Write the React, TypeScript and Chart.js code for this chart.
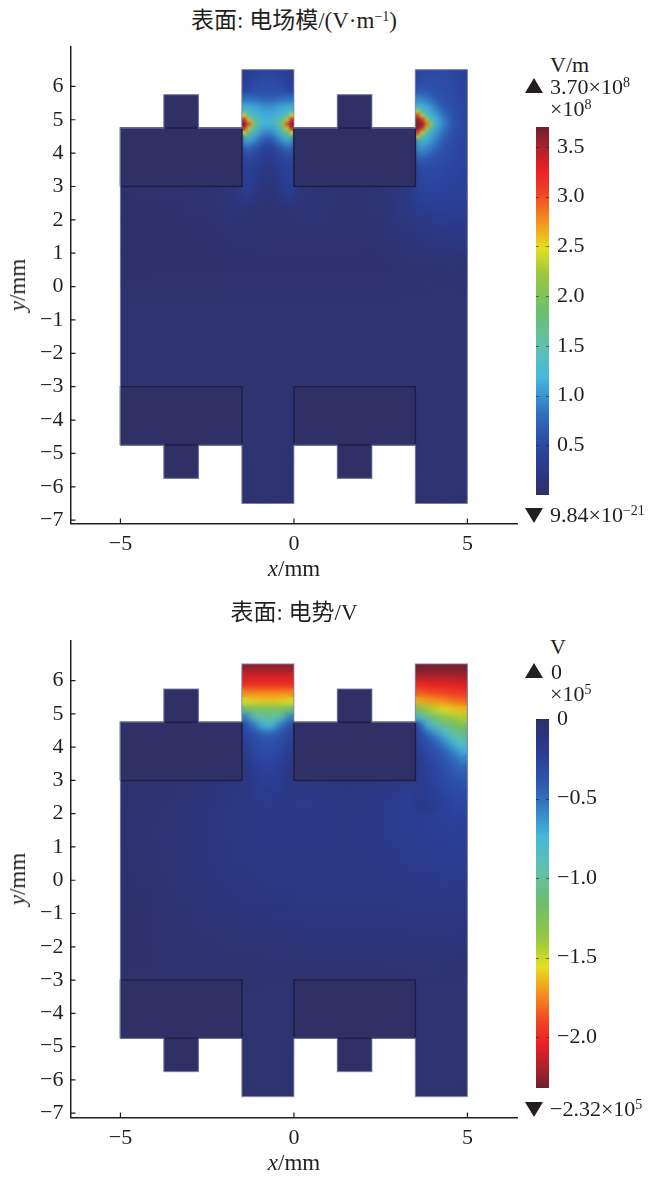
import React, { useEffect, useRef } from "react";
import { Chart, registerables } from "chart.js";

Chart.register(...registerables);

const SERIF = '"Liberation Serif", "Noto Sans CJK SC", serif';
const INK = "#231f20";

// device outline, mm
const outlineX = [-5, -3.75, -3.75, -2.75, -2.75, -1.5, -1.5, 0, 0, 1.25, 1.25, 2.25, 2.25, 3.5, 3.5, 5, 5, 3.5, 3.5, 2.25, 2.25, 1.25, 1.25, 0, 0, -1.5, -1.5, -2.75, -2.75, -3.75, -3.75, -5, -5];
const outlineY = [4.75, 4.75, 5.75, 5.75, 4.75, 4.75, 6.5, 6.5, 4.75, 4.75, 5.75, 5.75, 4.75, 4.75, 6.5, 6.5, -6.5, -6.5, -4.75, -4.75, -5.75, -5.75, -4.75, -4.75, -6.5, -6.5, -4.75, -4.75, -5.75, -5.75, -4.75, -4.75, 4.75];

// [x0, x1, y0, y1]
const electrodes = [
  [-5, -1.5, 3, 4.75],
  [0, 3.5, 3, 4.75],
  [-5, -1.5, -4.75, -3],
  [0, 3.5, -4.75, -3],
];
const teeth = [
  [-3.75, -2.75, 4.75, 5.75],
  [1.25, 2.25, 4.75, 5.75],
  [-3.75, -2.75, -5.75, -4.75],
  [1.25, 2.25, -5.75, -4.75],
];

const xTicks = [-5, 0, 5];
const yTicks = [-7, -6, -5, -4, -3, -2, -1, 0, 1, 2, 3, 4, 5, 6];

// colour table, position 0..1 along the colour bar
const colorStops = [0, 0.05, 0.1, 0.16, 0.22, 0.27, 0.32, 0.4, 0.5, 0.6, 0.67, 0.74, 0.82, 0.88, 0.95, 1];
const colorValues = ["#2f3068", "#2b3680", "#2a3f98", "#2d52ae", "#2f70bf", "#3a93d0", "#45b9dc", "#5fc0b0", "#6cbf6c", "#9ac83c", "#e4e020", "#f7941d", "#ef4423", "#ed2024", "#a5222a", "#6f2030"];

const gapXA = [-1.375, -1.125, -0.875, -0.625, -0.375, -0.125];
const gapXB = [3.625, 3.875, 4.125, 4.375, 4.625, 4.875];
const gapY = [6.375, 6.125, 5.875, 5.625, 5.375, 5.125, 4.875, 4.625, 4.375, 4.125, 3.875, 3.625, 3.375, 3.125, 2.875, 2.625, 2.375, 2.125];
const coarseX = [-4.5, -3.5, -2.5, -1.5, -0.5, 0.5, 1.5, 2.5, 3.5, 4.5];

// electric field, 10^8 V/m
const fieldBarTicks = [0.5, 1, 1.5, 2, 2.5, 3, 3.5];
const fieldBarLabels = ["0.5", "1.0", "1.5", "2.0", "2.5", "3.0", "3.5"];
const fieldCoarseY = [2.5, 1.5, 0.5];
const fieldCoarse = [
  [0.03, 0.04, 0.06, 0.18, 0.08, 0.15, 0.06, 0.1, 0.3, 0.4],
  [0.03, 0.03, 0.04, 0.07, 0.06, 0.06, 0.05, 0.07, 0.15, 0.22],
  [0.02, 0.03, 0.03, 0.04, 0.04, 0.04, 0.04, 0.04, 0.06, 0.08],
];
const fieldGapA = [
  [0.3, 0.4, 0.45, 0.45, 0.4, 0.3],
  [0.35, 0.47, 0.5, 0.5, 0.47, 0.35],
  [0.4, 0.52, 0.55, 0.55, 0.52, 0.4],
  [0.8, 0.75, 0.68, 0.68, 0.75, 0.8],
  [1.15, 1.1, 1.0, 1.0, 1.1, 1.15],
  [1.5, 1.25, 1.12, 1.12, 1.25, 1.5],
  [2.8, 1.7, 1.2, 1.2, 1.7, 2.8],
  [1.9, 1.3, 0.95, 0.95, 1.3, 1.9],
  [1.2, 0.95, 0.6, 0.6, 0.95, 1.2],
  [0.72, 0.55, 0.36, 0.36, 0.55, 0.72],
  [0.5, 0.42, 0.3, 0.3, 0.42, 0.5],
  [0.42, 0.36, 0.25, 0.25, 0.36, 0.42],
  [0.38, 0.3, 0.2, 0.2, 0.3, 0.38],
  [0.38, 0.26, 0.17, 0.17, 0.26, 0.38],
  [0.4, 0.22, 0.13, 0.13, 0.22, 0.4],
  [0.25, 0.16, 0.1, 0.1, 0.16, 0.25],
  [0.12, 0.1, 0.08, 0.08, 0.1, 0.12],
  [0.08, 0.07, 0.06, 0.06, 0.07, 0.08],
];
const fieldGapB = [
  [0.45, 0.5, 0.5, 0.5, 0.45, 0.4],
  [0.5, 0.52, 0.52, 0.52, 0.48, 0.42],
  [0.6, 0.6, 0.55, 0.52, 0.48, 0.42],
  [0.95, 0.78, 0.62, 0.55, 0.5, 0.42],
  [1.2, 1.1, 0.8, 0.6, 0.52, 0.45],
  [1.6, 1.3, 1.05, 0.72, 0.55, 0.45],
  [3.0, 1.75, 1.2, 0.85, 0.58, 0.45],
  [2.0, 1.35, 1.0, 0.72, 0.52, 0.45],
  [1.35, 1.1, 0.85, 0.6, 0.5, 0.42],
  [1.05, 0.9, 0.68, 0.55, 0.48, 0.42],
  [0.75, 0.65, 0.58, 0.5, 0.45, 0.42],
  [0.55, 0.52, 0.5, 0.48, 0.45, 0.42],
  [0.45, 0.48, 0.48, 0.45, 0.42, 0.4],
  [0.42, 0.45, 0.45, 0.42, 0.42, 0.38],
  [0.4, 0.42, 0.42, 0.4, 0.38, 0.38],
  [0.36, 0.38, 0.4, 0.38, 0.38, 0.38],
  [0.3, 0.33, 0.35, 0.36, 0.35, 0.35],
  [0.25, 0.28, 0.3, 0.32, 0.33, 0.33],
];
// field peaks at the electrode corners
const hotX = [-1.19, -1.31, -1.31, -1.31, -1.44, -1.44, -1.44, -1.44, -1.44, -0.31, -0.19, -0.19, -0.19, -0.06, -0.06, -0.06, -0.06, -0.06, 3.94, 3.81, 3.81, 3.81, 3.69, 3.69, 3.69, 3.69, 3.69, 3.56, 3.56, 3.56, 3.56, 3.56, 3.56, 3.56];
const hotY = [4.87, 5.0, 4.75, 4.87, 5.12, 4.62, 5.0, 4.75, 4.87, 4.87, 5.0, 4.75, 4.87, 5.12, 4.62, 5.0, 4.75, 4.87, 4.87, 5.0, 4.75, 4.87, 5.12, 4.62, 5.0, 4.75, 4.87, 5.25, 4.5, 5.12, 4.62, 5.0, 4.75, 4.87];
const hotV = [2.1, 2.3, 2.3, 3.0, 2.4, 2.4, 3.3, 3.3, 3.7, 2.1, 2.3, 2.3, 3.0, 2.4, 2.4, 3.3, 3.3, 3.7, 2.1, 2.2, 2.2, 2.9, 2.3, 2.3, 3.2, 3.2, 3.6, 2.3, 2.3, 3.1, 3.1, 3.6, 3.6, 3.7];

// potential, 10^5 V
const potBarTicks = [0, -0.5, -1, -1.5, -2];
const potBarLabels = ["0", "\u22120.5", "\u22121.0", "\u22121.5", "\u22122.0"];
const potCoarseY = [2.5, 1.5, 0.5, -0.5, -1.5, -2.5];
const potCoarse = [
  [-0.04, -0.05, -0.08, -0.14, -0.17, -0.17, -0.13, -0.16, -0.23, -0.28],
  [-0.05, -0.06, -0.09, -0.14, -0.16, -0.16, -0.15, -0.16, -0.2, -0.24],
  [-0.04, -0.06, -0.09, -0.13, -0.15, -0.15, -0.15, -0.15, -0.17, -0.2],
  [-0.03, -0.05, -0.08, -0.1, -0.12, -0.13, -0.13, -0.13, -0.14, -0.15],
  [-0.02, -0.04, -0.06, -0.07, -0.08, -0.09, -0.09, -0.09, -0.1, -0.1],
  [-0.02, -0.03, -0.04, -0.04, -0.05, -0.05, -0.05, -0.05, -0.06, -0.06],
];
const potGapA = [
  [-2.25, -2.25, -2.25, -2.25, -2.25, -2.25],
  [-2.1, -2.1, -2.1, -2.1, -2.1, -2.1],
  [-2.0, -2.0, -2.0, -2.0, -2.0, -2.0],
  [-1.75, -1.75, -1.75, -1.75, -1.75, -1.75],
  [-1.55, -1.58, -1.6, -1.6, -1.58, -1.55],
  [-1.15, -1.2, -1.2, -1.2, -1.2, -1.15],
  [-0.55, -0.9, -1.0, -1.0, -0.9, -0.55],
  [-0.35, -0.5, -0.72, -0.72, -0.5, -0.35],
  [-0.3, -0.35, -0.42, -0.42, -0.35, -0.3],
  [-0.25, -0.3, -0.35, -0.35, -0.3, -0.25],
  [-0.2, -0.28, -0.32, -0.32, -0.28, -0.2],
  [-0.15, -0.25, -0.28, -0.28, -0.25, -0.15],
  [-0.13, -0.22, -0.25, -0.25, -0.22, -0.13],
  [-0.13, -0.2, -0.22, -0.22, -0.2, -0.13],
  [-0.13, -0.18, -0.2, -0.2, -0.18, -0.13],
  [-0.14, -0.17, -0.18, -0.18, -0.17, -0.14],
  [-0.14, -0.16, -0.17, -0.17, -0.16, -0.14],
  [-0.14, -0.15, -0.17, -0.17, -0.15, -0.14],
];
const potGapB = [
  [-2.3, -2.3, -2.3, -2.3, -2.3, -2.3],
  [-2.2, -2.2, -2.2, -2.2, -2.2, -2.2],
  [-2.02, -2.05, -2.05, -2.05, -2.07, -2.07],
  [-1.85, -1.88, -1.9, -1.92, -1.95, -1.95],
  [-1.65, -1.7, -1.72, -1.75, -1.8, -1.82],
  [-1.25, -1.4, -1.5, -1.55, -1.6, -1.62],
  [-0.75, -1.05, -1.2, -1.3, -1.4, -1.45],
  [-0.35, -0.72, -0.9, -1.05, -1.17, -1.25],
  [-0.3, -0.45, -0.62, -0.8, -0.97, -1.06],
  [-0.28, -0.35, -0.45, -0.6, -0.77, -0.88],
  [-0.25, -0.3, -0.37, -0.46, -0.6, -0.72],
  [-0.2, -0.27, -0.33, -0.4, -0.48, -0.58],
  [-0.18, -0.25, -0.3, -0.36, -0.42, -0.48],
  [-0.17, -0.23, -0.28, -0.33, -0.38, -0.42],
  [-0.17, -0.22, -0.26, -0.3, -0.34, -0.37],
  [-0.16, -0.2, -0.24, -0.28, -0.3, -0.33],
  [-0.15, -0.19, -0.22, -0.25, -0.28, -0.3],
  [-0.14, -0.18, -0.21, -0.24, -0.26, -0.28],
];

const hexToRgb = (hex: string) => [1, 3, 5].map((i) => parseInt(hex.slice(i, i + 2), 16));

const colorAt = (t: number) => {
  const p = Math.min(1, Math.max(0, t));
  let i = 0;
  while (i < colorStops.length - 2 && colorStops[i + 1] < p) i++;
  const f = (p - colorStops[i]) / (colorStops[i + 1] - colorStops[i]);
  const a = hexToRgb(colorValues[i]);
  const b = hexToRgb(colorValues[i + 1]);
  return `rgb(${a.map((c, k) => Math.round(c + (b[k] - c) * f)).join(",")})`;
};

const gridCells = (xs: number[], ys: number[], rows: number[][]) =>
  rows.flatMap((row, r) => row.map((v, c) => ({ x: xs[c], y: ys[r], v })));

const closedRect = ([x0, x1, y0, y1]: number[]) => [
  { x: x0, y: y0 },
  { x: x1, y: y0 },
  { x: x1, y: y1 },
  { x: x0, y: y1 },
  { x: x0, y: y0 },
];

const heatLayer = (cells: any[], cellMm: number, blur: number, toT: (v: number) => number) => ({
  data: cells,
  showLine: false,
  pointStyle: "rect",
  pointBorderWidth: 0,
  pointBackgroundColor: cells.map((c) => colorAt(toT(c.v))),
  pointRadius: (ctx: any) => {
    const s = ctx.chart.scales.x;
    return (Math.abs(s.getPixelForValue(cellMm) - s.getPixelForValue(0)) * 1.06) / Math.SQRT2;
  },
  heatBlur: blur,
});

// keep the cells inside the device outline, then smooth what was drawn
const heatClip = {
  id: "heatClip",
  beforeDatasetDraw(chart: any, args: any) {
    if (!chart.data.datasets[args.index].heatBlur) return;
    const { ctx, scales } = chart;
    ctx.save();
    ctx.beginPath();
    outlineX.forEach((x, i) => {
      const px = scales.x.getPixelForValue(x);
      const py = scales.y.getPixelForValue(outlineY[i]);
      if (i === 0) ctx.moveTo(px, py);
      else ctx.lineTo(px, py);
    });
    ctx.closePath();
    ctx.clip();
  },
  afterDatasetDraw(chart: any, args: any) {
    const blur = chart.data.datasets[args.index].heatBlur;
    if (!blur) return;
    const { ctx, canvas } = chart;
    const copy = document.createElement("canvas");
    copy.width = canvas.width;
    copy.height = canvas.height;
    copy.getContext("2d")!.drawImage(canvas, 0, 0);
    ctx.setTransform(1, 0, 0, 1, 0, 0);
    ctx.filter = `blur(${blur * chart.currentDevicePixelRatio}px)`;
    ctx.drawImage(copy, 0, 0);
    ctx.restore();
  },
};

// tick marks point into the plot
const inwardTicks = {
  id: "inwardTicks",
  afterDraw(chart: any) {
    const { ctx, scales, chartArea } = chart;
    ctx.save();
    ctx.strokeStyle = INK;
    ctx.lineWidth = 1.2;
    ctx.beginPath();
    xTicks.forEach((v) => {
      const px = scales.x.getPixelForValue(v);
      ctx.moveTo(px, chartArea.bottom);
      ctx.lineTo(px, chartArea.bottom - 5);
    });
    yTicks.forEach((v) => {
      const py = scales.y.getPixelForValue(v);
      ctx.moveTo(chartArea.left, py);
      ctx.lineTo(chartArea.left + 5, py);
    });
    ctx.stroke();
    ctx.restore();
  },
};

const barTickMarks = {
  id: "barTickMarks",
  afterDatasetsDraw(chart: any) {
    const { ctx, scales, chartArea } = chart;
    ctx.save();
    ctx.strokeStyle = "rgba(30,30,40,0.55)";
    ctx.lineWidth = 1;
    ctx.beginPath();
    scales.y.ticks.forEach((t: any) => {
      const py = Math.round(scales.y.getPixelForValue(t.value)) + 0.5;
      ctx.moveTo(chartArea.left, py);
      ctx.lineTo(chartArea.left + 3, py);
      ctx.moveTo(chartArea.right - 3, py);
      ctx.lineTo(chartArea.right, py);
    });
    ctx.stroke();
    ctx.restore();
  },
};

const noPadding = (s: any) => {
  s.paddingTop = 0;
  s.paddingBottom = 0;
  s.paddingLeft = 0;
  s.paddingRight = 0;
};

type PlotProps = { top: number; yMin: number; yMax: number; layers: any[] };

const FieldPlot = ({ top, yMin, yMax, layers }: PlotProps) => {
  const canvasRef = useRef<HTMLCanvasElement | null>(null);

  useEffect(() => {
    if (!canvasRef.current) return;
    const electrodeSets = electrodes.map((r) => ({
      data: closedRect(r),
      showLine: true,
      pointRadius: 0,
      borderColor: "#1c1e4a",
      borderWidth: 1.5,
      backgroundColor: "#2f3166",
      fill: "shape",
    }));
    const toothSets = teeth.map((r) => ({
      data: closedRect(r),
      showLine: true,
      pointRadius: 0,
      borderWidth: 0,
      backgroundColor: "#2f3166",
      fill: "shape",
    }));
    const outline = outlineX.map((x, i) => ({ x, y: outlineY[i] }));
    const chart = new Chart(canvasRef.current, {
      type: "scatter",
      data: {
        datasets: [
          { data: outline, showLine: true, pointRadius: 0, borderColor: "rgba(135,138,170,0.7)", borderWidth: 1.2, fill: false },
          ...electrodeSets,
          ...toothSets,
          ...layers,
          { data: outline, showLine: true, pointRadius: 0, borderWidth: 0, backgroundColor: "#2e3470", fill: "shape" },
        ],
      } as any,
      options: {
        responsive: false,
        animation: false,
        events: [],
        layout: { autoPadding: false, padding: { top: 7, right: 13, left: 0, bottom: 0 } },
        plugins: { legend: { display: false }, tooltip: { enabled: false } },
        scales: {
          x: {
            type: "linear",
            min: -6.44,
            max: 6.43,
            grid: { display: false, drawTicks: false },
            border: { display: true, color: INK, width: 1.5 },
            afterBuildTicks: (s: any) => {
              s.ticks = xTicks.map((value) => ({ value }));
            },
            afterFit: (s: any) => {
              s.height = 46.5;
              noPadding(s);
            },
            ticks: {
              padding: 8,
              color: INK,
              maxRotation: 0,
              font: { family: SERIF, size: 22 },
              callback: (v: any) => String(v).replace("-", "\u2212"),
            },
          },
          y: {
            type: "linear",
            min: yMin,
            max: yMax,
            grid: { display: false, drawTicks: false },
            border: { display: true, color: INK, width: 1.5 },
            afterBuildTicks: (s: any) => {
              s.ticks = yTicks.map((value) => ({ value }));
            },
            afterFit: (s: any) => {
              s.width = 70.5;
              noPadding(s);
            },
            ticks: {
              padding: 7,
              color: INK,
              autoSkip: false,
              font: { family: SERIF, size: 22 },
              callback: (v: any) => String(v).replace("-", "\u2212"),
            },
          },
        },
      },
      plugins: [heatClip, inwardTicks],
    } as any);
    return () => {
      chart.destroy();
    };
  }, []);

  return <canvas ref={canvasRef} width={530} height={530} style={{ position: "absolute", left: 0, top, width: 530, height: 530 }} />;
};

type BarProps = { top: number; height: number; min: number; max: number; ticks: number[]; labels: string[]; toT: (v: number) => number };

const ColorBar = ({ top, height, min, max, ticks, labels, toT }: BarProps) => {
  const canvasRef = useRef<HTMLCanvasElement | null>(null);

  useEffect(() => {
    if (!canvasRef.current) return;
    const chart = new Chart(canvasRef.current, {
      type: "bar",
      data: {
        labels: ["bar"],
        datasets: [
          {
            data: [[min, max]],
            barPercentage: 1,
            categoryPercentage: 1,
            backgroundColor: (ctx: any) => {
              const { chart: c } = ctx;
              if (!c.chartArea) return colorValues[0];
              const y0 = c.scales.y.getPixelForValue(toT(min) < toT(max) ? min : max);
              const y1 = c.scales.y.getPixelForValue(toT(min) < toT(max) ? max : min);
              const g = c.ctx.createLinearGradient(0, y0, 0, y1);
              colorStops.forEach((s, i) => g.addColorStop(s, colorValues[i]));
              return g;
            },
          },
        ],
      } as any,
      options: {
        responsive: false,
        animation: false,
        events: [],
        layout: { autoPadding: false, padding: { left: 6, top: 12, bottom: 12, right: 0 } },
        plugins: { legend: { display: false }, tooltip: { enabled: false } },
        scales: {
          x: { display: false },
          y: {
            position: "right",
            min,
            max,
            grid: { display: false, drawTicks: false },
            border: { display: false },
            afterBuildTicks: (s: any) => {
              s.ticks = ticks.map((value) => ({ value }));
            },
            afterFit: (s: any) => {
              s.width = 101;
              noPadding(s);
            },
            ticks: {
              padding: 8,
              color: INK,
              autoSkip: false,
              font: { family: SERIF, size: 22 },
              callback: (v: any) => labels[ticks.indexOf(v)],
            },
          },
        },
      },
      plugins: [barTickMarks],
    } as any);
    return () => {
      chart.destroy();
    };
  }, []);

  return <canvas ref={canvasRef} width={120} height={height} style={{ position: "absolute", left: 530, top, width: 120, height }} />;
};

const Text = ({ x, y, center, rotate, size = 22, children }: any) => (
  <div
    style={{
      position: "absolute",
      left: x,
      top: y - 15,
      height: 30,
      lineHeight: "30px",
      whiteSpace: "nowrap",
      fontFamily: SERIF,
      fontSize: size,
      color: INK,
      transform: `${center ? "translateX(-50%)" : ""} ${rotate ? "rotate(-90deg)" : ""}`,
    }}
  >
    {children}
  </div>
);

const Sup = ({ children }: any) => <sup style={{ fontSize: 14, lineHeight: 0, verticalAlign: "7px" }}>{children}</sup>;

const Triangle = ({ top, down }: { top: number; down?: boolean }) => (
  <div
    style={{
      position: "absolute",
      left: 525,
      top,
      width: 0,
      height: 0,
      borderLeft: "9px solid transparent",
      borderRight: "9px solid transparent",
      ...(down ? { borderTop: `15px solid ${INK}` } : { borderBottom: `15px solid ${INK}` }),
    }}
  />
);

const fieldT = (v: number) => v / 3.7;
const potT = (v: number) => -v / 2.32;

const fieldLayers = [
  heatLayer(hotX.map((x, i) => ({ x, y: hotY[i], v: hotV[i] })), 0.125, 1.5, fieldT),
  heatLayer([...gridCells(gapXA, gapY, fieldGapA), ...gridCells(gapXB, gapY, fieldGapB)], 0.25, 3.5, fieldT),
  heatLayer(gridCells(coarseX, fieldCoarseY, fieldCoarse), 1, 12, fieldT),
];
const potLayers = [
  heatLayer([...gridCells(gapXA, gapY, potGapA), ...gridCells(gapXB, gapY, potGapB)], 0.25, 3.5, potT),
  heatLayer(gridCells(coarseX, potCoarseY, potCoarse), 1, 14, potT),
];

export default function App() {
  return (
    <div style={{ position: "absolute", left: 0, top: 0, width: 650, height: 1177, background: "#fff", overflow: "hidden" }}>
      <FieldPlot top={40} yMin={-7.1} yMax={7.18} layers={fieldLayers} />
      <FieldPlot top={634} yMin={-7.13} yMax={7.19} layers={potLayers} />
      <ColorBar top={115} height={392} min={0} max={3.7} ticks={fieldBarTicks} labels={fieldBarLabels} toT={fieldT} />
      <ColorBar top={707} height={393} min={-2.32} max={0} ticks={potBarTicks} labels={potBarLabels} toT={potT} />

      <Text x={294} y={21} center size={23}>
        表面: 电场模/(V·m<Sup>{"\u22121"}</Sup>)
      </Text>
      <Text x={294} y={569} center size={23}>
        <i>x</i>/mm
      </Text>
      <Text x={18} y={285} center rotate size={23}>
        <i>y</i>/mm
      </Text>
      <Text x={550} y={65}>V/m</Text>
      <Text x={550} y={87}>
        3.70×10<Sup>8</Sup>
      </Text>
      <Text x={550} y={109}>
        ×10<Sup>8</Sup>
      </Text>
      <Text x={550} y={515}>
        9.84×10<Sup>{"\u221221"}</Sup>
      </Text>
      <Triangle top={78} />
      <Triangle top={508} down />

      <Text x={294} y={613} center size={23}>
        表面: 电势/V
      </Text>
      <Text x={294} y={1163} center size={23}>
        <i>x</i>/mm
      </Text>
      <Text x={18} y={879} center rotate size={23}>
        <i>y</i>/mm
      </Text>
      <Text x={550} y={647}>V</Text>
      <Text x={551} y={672}>0</Text>
      <Text x={550} y={694}>
        ×10<Sup>5</Sup>
      </Text>
      <Text x={550} y={1109}>
        {"\u2212"}2.32×10<Sup>5</Sup>
      </Text>
      <Triangle top={663} />
      <Triangle top={1102} down />
    </div>
  );
}
